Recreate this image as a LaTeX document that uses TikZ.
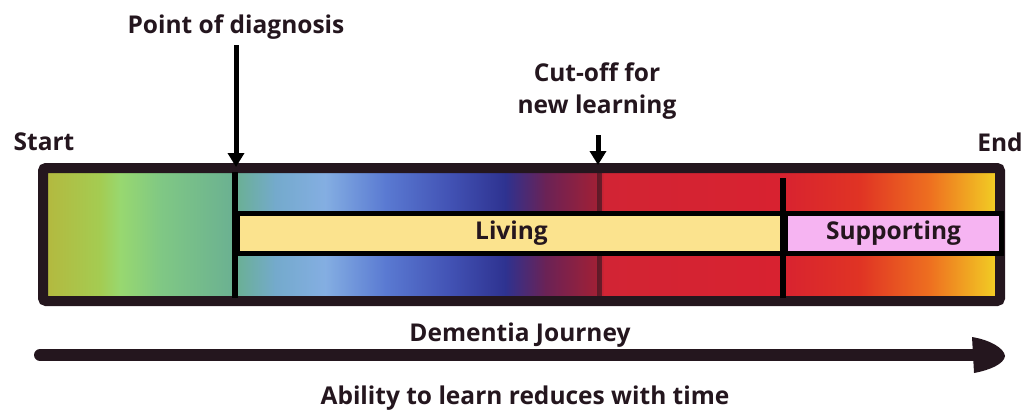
\documentclass[tikz,border=0pt]{standalone}
\usepackage{fontspec}
\setmainfont{Open Sans}
\usetikzlibrary{arrows.meta}
\definecolor{ink}{HTML}{24161E}
\definecolor{livingc}{HTML}{FBE38E}
\definecolor{suppc}{HTML}{F6B4F2}
\definecolor{c0}{HTML}{B4B83E}
\definecolor{c1}{HTML}{A4CC52}
\definecolor{c2}{HTML}{98D870}
\definecolor{c3}{HTML}{80C884}
\definecolor{c4}{HTML}{6AB092}
\definecolor{c5}{HTML}{74AACC}
\definecolor{c6}{HTML}{84AEE2}
\definecolor{c7}{HTML}{5A7AD2}
\definecolor{c8}{HTML}{4252B4}
\definecolor{c9}{HTML}{2E3290}
\definecolor{c10}{HTML}{6A2256}
\definecolor{c11}{HTML}{A02036}
\definecolor{c12}{HTML}{D22434}
\definecolor{c13}{HTML}{D82230}
\definecolor{c14}{HTML}{E03424}
\definecolor{c15}{HTML}{EE7020}
\definecolor{c16}{HTML}{F2D424}
\tikzset{
  lbl/.style={text=ink, font=\fontsize{24.5}{29}\selectfont\bfseries, inner sep=0pt},
  divider/.style={draw=black, line width=6pt},
  stagebox/.style={draw=black, line width=5pt, inner sep=0pt, minimum height=40pt},
}
\begin{document}
\begin{tikzpicture}[x=1pt,y=-1pt]
\useasboundingbox (0,0) rectangle (1027,415);
% colour bands
\foreach \xa/\xb/\ca/\cb in {44/100/c0/c1, 100/120/c1/c2, 120/160/c2/c3, 160/235/c3/c4, 235/275/c4/c5, 275/325/c5/c6, 325/385/c6/c7, 385/450/c7/c8, 450/505/c8/c9, 505/545/c9/c10, 545/596/c10/c11, 596/604/c11/c12, 604/780/c12/c13, 780/860/c13/c14, 860/930/c14/c15, 930/1000/c15/c16}{
  \shade[left color=\ca, right color=\cb] (\xa,169) rectangle (\xb+0.6,301);
}
% frame
\draw[ink, line width=10pt, rounded corners=3pt] (43,168) rectangle (1000,301);
% faint cut-off line inside bar
\draw[ink, line width=5pt, opacity=0.55] (599,172) -- (599,297);
% stage boxes
\node[stagebox, fill=livingc, minimum width=548pt, anchor=west] (living) at (235,233) {};
\node[lbl] at (living.center) {Living};
\node[stagebox, fill=suppc, minimum width=216pt, anchor=west] (supp) at (783,233) {};
\node[lbl] at (supp.center) {Supporting};
% dividers
\coordinate (d1t) at (235,172); \coordinate (d1b) at (235,298);
\coordinate (d2t) at (783,178); \coordinate (d2b) at (783,298);
\draw[divider] (d1t) -- (d1b);
\draw[divider] (d2t) -- (d2b);
% labels
\node[lbl] (start) at (44,142) {Start};
\node[lbl] (end) at (1000,142) {End};
\node[lbl] (diag) at (236,27) {Point of diagnosis};
\node[lbl, align=center, font=\fontsize{24.5}{32}\selectfont\bfseries] (cut) at (597,91) {Cut-off for\\new learning};
\coordinate (diagtip) at (236,167);
\coordinate (cuttip) at (598,165);
\draw[black, line width=5pt, -{Triangle[width=16pt,length=14pt]}] (236,45) -- (diagtip);
\draw[black, line width=5pt, -{Triangle[width=16pt,length=14pt]}] (598,135) -- (cuttip);
% journey arrow
\node[lbl] (journey) at (520,335) {Dementia Journey};
\coordinate (js) at (40,355);
\coordinate (je) at (978,355);
\draw[ink, line width=12pt, line cap=round] (js) -- (je);
\fill[ink] (972,337) .. controls (990,340) and (1004,348) .. (1005,356) .. controls (1004,364) and (990,370) .. (974,373) -- cycle;
\node[lbl] (ability) at (525,398) {Ability to learn reduces with time};
\end{tikzpicture}
\end{document}
